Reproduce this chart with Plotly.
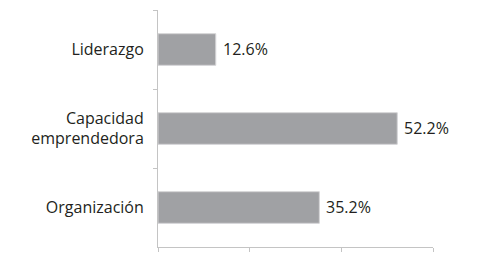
import plotly.graph_objects as go

categories = ["Liderazgo", "Capacidad<br>emprendedora", "Organización"]
values = [12.6, 52.2, 35.2]
labels = ["12.6%", "52.2%", "35.2%"]

fig = go.Figure(go.Bar(
    x=values, y=categories, orientation="h",
    marker=dict(color="#a0a1a4", line=dict(color="#d4d4d6", width=1)),
))
for c, v, t in zip(categories, values, labels):
    fig.add_annotation(x=v, y=c, text=t, showarrow=False, xanchor="left",
                       xshift=5, yshift=1,
                       font=dict(size=16, color="#231f20", family="Open Sans"))
fig.update_layout(
    width=477, height=270,
    margin=dict(l=158, r=44, t=10, b=23),
    plot_bgcolor="white", paper_bgcolor="white",
    bargap=0.6, showlegend=False,
    font=dict(family="Open Sans", size=16, color="#231f20"),
)
fig.update_xaxes(range=[0, 60], dtick=20, showticklabels=False, showgrid=False,
                 zeroline=False, showline=True, linecolor="#c4c4c4", linewidth=1,
                 ticks="outside", ticklen=4, tickcolor="#c4c4c4")
fig.update_yaxes(autorange="reversed", showgrid=False, zeroline=False,
                 showline=True, linecolor="#c4c4c4", linewidth=1,
                 ticks="outside", ticklen=4, tickcolor="#c4c4c4",
                 tickson="boundaries", ticklabelstandoff=10)
fig.write_html("out.html")
